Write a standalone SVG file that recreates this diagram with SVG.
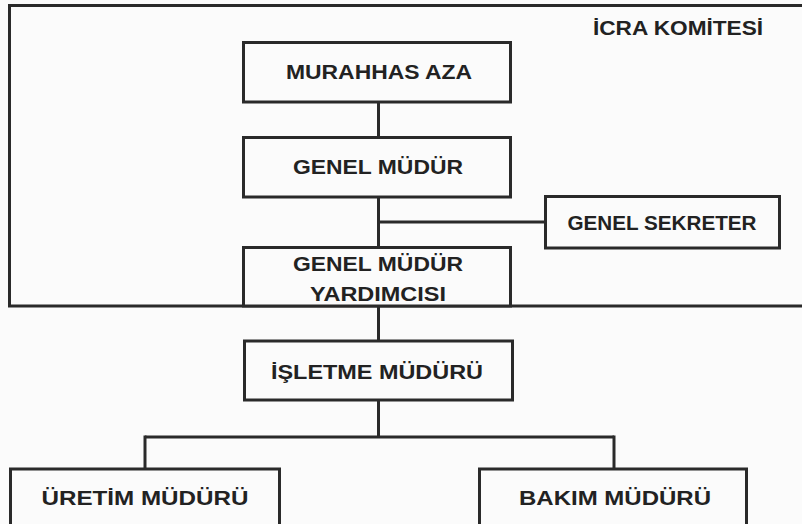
<svg xmlns="http://www.w3.org/2000/svg" width="802" height="524" viewBox="0 0 802 524">
<style>
.box{fill:#fbfbfb;stroke:#2a2a2a;stroke-width:3}
.frame{fill:none;stroke:#2a2a2a;stroke-width:3}
.conn{fill:none;stroke:#2a2a2a;stroke-width:3}
.lbl{font-family:"Liberation Sans",Arial,sans-serif;font-weight:bold;font-size:21px;fill:#222222;text-anchor:middle;dominant-baseline:central}
</style>
<rect x="0" y="0" width="802" height="524" fill="#fbfbfb"/>
<g id="frame">
<path class="frame" d="M803,5.5 H9.5 V306 H803"/>
<text class="lbl" x="678" y="27" textLength="170" lengthAdjust="spacingAndGlyphs" font-size="20">İCRA KOMİTESİ</text>
</g>
<g id="connectors">
<line class="conn" x1="378.5" y1="102" x2="378.5" y2="137"/>
<line class="conn" x1="378.5" y1="197" x2="378.5" y2="247"/>
<line class="conn" x1="378.5" y1="222" x2="545" y2="222"/>
<line class="conn" x1="378.5" y1="306" x2="378.5" y2="341"/>
<line class="conn" x1="378.5" y1="400" x2="378.5" y2="437"/>
<line class="conn" x1="145" y1="437" x2="614" y2="437"/>
<line class="conn" x1="145" y1="435.5" x2="145" y2="469"/>
<line class="conn" x1="614" y1="435.5" x2="614" y2="469"/>
</g>
<g id="murahhas-aza">
<rect class="box" x="243.5" y="42.5" width="267" height="59.5"/>
<text class="lbl" x="379" y="71" textLength="186" lengthAdjust="spacingAndGlyphs">MURAHHAS AZA</text>
</g>
<g id="genel-mudur">
<rect class="box" x="243.5" y="137.5" width="267" height="59.5"/>
<text class="lbl" x="378" y="166" textLength="170" lengthAdjust="spacingAndGlyphs">GENEL MÜDÜR</text>
</g>
<g id="genel-sekreter">
<rect class="box" x="545.5" y="196.5" width="234" height="51.5"/>
<text class="lbl" x="662" y="222" textLength="189" lengthAdjust="spacingAndGlyphs">GENEL SEKRETER</text>
</g>
<g id="genel-mudur-yardimcisi">
<rect class="box" x="243.5" y="247.5" width="267" height="58.5"/>
<text class="lbl" x="378" y="263" textLength="170" lengthAdjust="spacingAndGlyphs">GENEL MÜDÜR</text>
<text class="lbl" x="378" y="293" textLength="136" lengthAdjust="spacingAndGlyphs">YARDIMCISI</text>
</g>
<g id="isletme-mudur">
<rect class="box" x="244.5" y="341" width="268" height="59"/>
<text class="lbl" x="377" y="371" textLength="212" lengthAdjust="spacingAndGlyphs">İŞLETME MÜDÜRÜ</text>
</g>
<g id="uretim-mudur">
<rect class="box" x="10.5" y="469" width="269" height="70"/>
<text class="lbl" x="145" y="497" textLength="207" lengthAdjust="spacingAndGlyphs">ÜRETİM MÜDÜRÜ</text>
</g>
<g id="bakim-mudur">
<rect class="box" x="479.5" y="469" width="267" height="70"/>
<text class="lbl" x="615" y="497" textLength="192" lengthAdjust="spacingAndGlyphs">BAKIM MÜDÜRÜ</text>
</g>
</svg>
